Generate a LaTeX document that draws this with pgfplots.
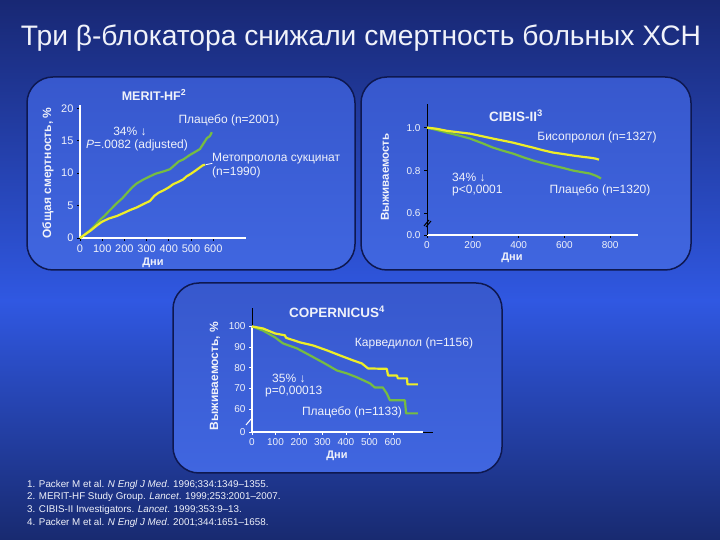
\documentclass[border=0pt]{standalone}
\usepackage{fontspec}
\setmainfont{Liberation Sans}
\usepackage{pgfplots}
\pgfplotsset{compat=1.18}

\definecolor{bgtop}{RGB}{24,40,116}
\definecolor{bgmid}{RGB}{48,88,226}
\definecolor{bgbot}{RGB}{24,42,112}
\definecolor{pantop}{RGB}{55,88,205}
\definecolor{panbot}{RGB}{64,102,224}
\definecolor{panline}{RGB}{14,24,80}
\definecolor{ylw}{RGB}{238,238,40}
\definecolor{grn}{RGB}{118,188,66}
\definecolor{txt}{RGB}{240,242,250}

\newcommand{\fs}[1]{\fontsize{#1bp}{#1bp}\selectfont}

\pgfplotsset{
  panel/.style={
    scale only axis, anchor=south west, clip=false,
    axis lines=left,
    axis line style={-, white, line width=1.3bp},
    tick style={black, line width=0.8bp},
    major tick length=3bp, tick align=outside,
    ticklabel style={font=\fs{10}, text=txt},
  },
  yel/.style={ylw, line width=2.2bp, line join=round, no marks},
  gre/.style={grn, line width=2.2bp, line join=round, no marks},
}

\begin{document}
\begin{tikzpicture}
\useasboundingbox (0,0) rectangle (720bp,540bp);
% slide background
\fill[top color=bgtop, bottom color=bgmid] (0,238bp) rectangle (720bp,540bp);
\fill[top color=bgmid, bottom color=bgbot] (0,0) rectangle (720bp,240bp);

% title
\node[text=txt, font=\fs{28.2}] at (361bp,502bp) {Три β-блокатора снижали смертность больных ХСН};

% panels
\begin{scope}[rounded corners=26bp, line width=1.5bp, draw=panline]
  \draw[top color=pantop, bottom color=panbot] (27bp,463bp) rectangle (355bp,270bp);
  \draw[top color=pantop, bottom color=panbot] (361bp,463bp) rectangle (691bp,270bp);
  \draw[top color=pantop, bottom color=panbot] (173bp,257bp) rectangle (502bp,67bp);
\end{scope}

% ---------------- MERIT-HF
\begin{axis}[panel, at={(80bp,302bp)}, width=166.5bp, height=133bp,
  xmin=0, xmax=750, ymin=0, ymax=20.5,
  ticklabel style={font=\fs{11}},
  xtick={0,100,200,300,400,500,600}, xticklabels={0,100,200,300,400,500,600},
  ytick={0,5,10,15,20}, yticklabels={0,5,10,15,20}]
% placebo
\addplot[gre] coordinates {
  (0,0) (20,0.5) (45,1.2) (70,2.0) (90,2.8) (110,3.4) (135,4.3) (167,5.4)
  (190,6.1) (211,6.9) (235,7.8) (255,8.4) (285,9.0) (315,9.5) (340,9.9)
  (360,10.1) (380,10.3) (405,10.6) (425,11.2) (445,11.8) (465,12.1)
  (495,12.8) (515,13.2) (540,13.7) (555,14.5) (572,15.4) (585,15.7) (594,16.3)};
% metoprolol
\addplot[yel] coordinates {
  (0,0) (25,0.6) (50,1.2) (75,1.9) (99,2.5) (130,3.0) (167,3.4) (200,3.9)
  (225,4.3) (255,4.7) (290,5.3) (315,5.7) (335,6.5) (355,7.0) (374,7.3)
  (400,7.8) (420,8.3) (440,8.6) (464,9.0) (480,9.5) (500,9.9) (525,10.5)
  (541,10.9) (553,11.2) (563,11.3)};
\draw[white, line width=0.8bp] (axis cs:566,11.3) -- (axis cs:596,11.5);
\end{axis}
\node[text=txt, font=\fs{12.5}\bfseries] at (154bp,445bp) {MERIT-HF\textsuperscript{2}};
\node[text=txt, font=\fs{12}] at (229bp,420bp) {Плацебо (n=2001)};
\node[text=txt, font=\fs{12}] at (130bp,409bp) {34\% ↓};
\node[text=txt, font=\fs{12}] at (137bp,395bp) {\textit{P}=.0082 (adjusted)};
\node[text=txt, font=\fs{12}, anchor=west, inner sep=0pt] at (212bp,381bp) {Метопролола сукцинат};
\node[text=txt, font=\fs{12}, anchor=west, inner sep=0pt] at (212bp,368bp) {(n=1990)};
\node[text=txt, font=\fs{12}\bfseries, rotate=90] at (48bp,367bp) {Общая смертность, \%};
\node[text=txt, font=\fs{11}\bfseries] at (153bp,277bp) {Дни};

% ---------------- CIBIS-II
\begin{axis}[panel, at={(427bp,305bp)}, width=210.7bp, height=131bp,
  xmin=0, xmax=920, ymin=0.5, ymax=1.11,
  y axis line style={black, line width=0.8bp},
  xtick={0,200,400,600,800}, xticklabels={0,200,400,600,800},
  ytick={0.5,0.6,0.8,1.0}, yticklabels={0.0,0.6,0.8,1.0}]
% placebo
\addplot[gre] coordinates {
  (0,1.0) (40,0.99) (87,0.977) (140,0.963) (188,0.949) (240,0.928) (288,0.907)
  (330,0.893) (376,0.879) (420,0.862) (463,0.847) (505,0.835) (550,0.823)
  (595,0.812) (638,0.8) (680,0.792) (712,0.786) (740,0.775) (760,0.763)};
% bisoprolol
\addplot[yel] coordinates {
  (0,1.0) (40,0.995) (87,0.985) (140,0.978) (188,0.972) (240,0.96) (288,0.949)
  (330,0.94) (376,0.93) (420,0.918) (463,0.907) (505,0.895) (550,0.884)
  (595,0.877) (638,0.87) (680,0.864) (712,0.86) (735,0.856) (751,0.851)};
\end{axis}
\draw[black, line width=1bp] (424bp,314bp) -- (429bp,320bp) (426bp,313bp) -- (431bp,319bp);
\node[text=txt, font=\fs{13.5}\bfseries] at (516bp,424bp) {CIBIS-II\textsuperscript{3}};
\node[text=txt, font=\fs{12}] at (597bp,403bp) {Бисопролол (n=1327)};
\node[text=txt, font=\fs{12}, anchor=west, inner sep=0pt] at (452bp,363bp) {34\% ↓};
\node[text=txt, font=\fs{12}, anchor=west, inner sep=0pt] at (452bp,349bp) {p<0,0001};
\node[text=txt, font=\fs{12}] at (600bp,350bp) {Плацебо (n=1320)};
\node[text=txt, font=\fs{11.5}\bfseries, rotate=90] at (385bp,363bp) {Выживаемость};
\node[text=txt, font=\fs{11}\bfseries] at (512bp,282bp) {Дни};

% ---------------- COPERNICUS
\begin{axis}[panel, at={(252bp,108bp)}, width=171bp, height=123.6bp,
  xmin=0, xmax=728, ymin=49, ymax=108.7,
  tick style={white},
  y axis line style={draw=none},
  xtick={0,100,200,300,400,500,600}, xticklabels={0,100,200,300,400,500,600},
  ytick={49,60,70,80,90,100}, yticklabels={0,60,70,80,90,100}]
\draw[white, line width=1.3bp] (axis cs:0,49) -- (axis cs:0,100);
\draw[black, line width=0.6bp] (axis cs:0,100) -- (axis cs:0,108.7);
\draw[black, line width=0.6bp] (axis cs:728,49) -- (axis cs:770,49);
% placebo
\addplot[gre] coordinates {
  (0,100) (47,98) (98,94.7) (132,91.8) (191,89.4) (247,86) (302,82.6)
  (362,78.7) (404,77.3) (447,75.4) (502,72.5) (523,70.5) (557,70.5)
  (574,67.6) (587,64.3) (651,64.3) (656,58) (706,58)};
% carvedilol
\addplot[yel] coordinates {
  (0,100) (47,99) (98,96.6) (140,95.7) (145,94.5) (204,92.3) (260,90.8)
  (320,88.4) (374,86) (430,83.6) (468,82.1) (494,79.7) (574,79.5)
  (579,76.3) (617,76.3) (621,74.9) (660,74.9) (662,72) (706,72)};
\end{axis}
\draw[white, line width=1bp] (246bp,115bp) -- (251bp,121bp);
\node[text=txt, font=\fs{13.5}\bfseries] at (337bp,228bp) {COPERNICUS\textsuperscript{4}};
\node[text=txt, font=\fs{12}] at (414bp,197bp) {Карведилол (n=1156)};
\node[text=txt, font=\fs{12}, anchor=west, inner sep=0pt] at (272bp,162bp) {35\% ↓};
\node[text=txt, font=\fs{12}, anchor=west, inner sep=0pt] at (265bp,148bp) {p=0,00013};
\node[text=txt, font=\fs{12}] at (352bp,128bp) {Плацебо (n=1133)};
\node[text=txt, font=\fs{12}\bfseries, rotate=90] at (215bp,164bp) {Выживаемость, \%};
\node[text=txt, font=\fs{11}\bfseries] at (337bp,84bp) {Дни};

% references
\node[text=txt, anchor=north west, align=left, inner sep=0pt, font=\fontsize{9.8bp}{12.7bp}\selectfont] at (27bp,60bp) {%
1. Packer M et al. \textit{N Engl J Med}. 1996;334:1349–1355.\\
2. MERIT-HF Study Group. \textit{Lancet}. 1999;253:2001–2007.\\
3. CIBIS-II Investigators. \textit{Lancet}. 1999;353:9–13.\\
4. Packer M et al. \textit{N Engl J Med}. 2001;344:1651–1658.};
\end{tikzpicture}
\end{document}
